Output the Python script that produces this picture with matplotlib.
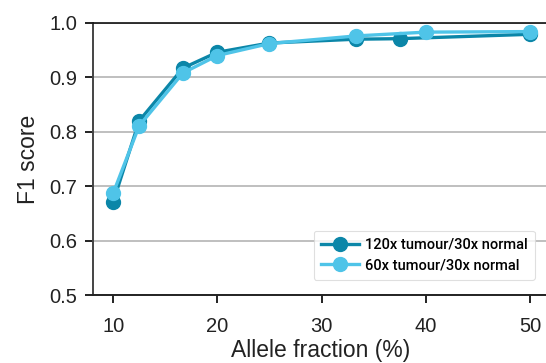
import matplotlib
matplotlib.use("Agg")
import matplotlib.pyplot as plt

# allele fraction (%) and F1 scores
af_120 = [10, 12.5, 16.7, 20, 25, 33.3, 37.5, 50]
f1_120 = [0.671, 0.820, 0.917, 0.946, 0.963, 0.970, 0.971, 0.979]
af_60 = [10, 12.5, 16.7, 20, 25, 33.3, 40, 50]
f1_60 = [0.687, 0.811, 0.908, 0.940, 0.962, 0.976, 0.983, 0.984]

x_ticks = [10, 20, 30, 40, 50]
y_ticks = [0.5, 0.6, 0.7, 0.8, 0.9, 1.0]

dark = "#0b86a8"
light = "#4fc4e8"

plt.rcParams["font.family"] = ["Liberation Sans", "DejaVu Sans"]

fig = plt.figure(figsize=(5.46, 3.63), dpi=100)
ax = fig.add_axes([0.170, 0.187, 0.835, 0.750])

ax.plot(af_120, f1_120, color=dark, lw=2.4, marker="o", ms=10,
        label="120x tumour/30x normal", zorder=3)
ax.plot(af_60, f1_60, color=light, lw=2.4, marker="o", ms=10,
        label="60x tumour/30x normal", zorder=4)

ax.set_xlim(8.05, 51.8)
ax.set_ylim(0.5, 1.0)
ax.set_xticks(x_ticks)
ax.set_yticks(y_ticks)
ax.set_yticklabels([f"{v:.1f}" for v in y_ticks])
ax.yaxis.grid(True, color="#b4b4b4", lw=1.2)
ax.set_axisbelow(True)

ax.spines["right"].set_visible(False)
ax.spines["top"].set_color("#111111")
ax.spines["top"].set_linewidth(1.2)
ax.spines["bottom"].set_color("#222222")
ax.spines["bottom"].set_linewidth(1.4)
ax.spines["left"].set_color("#444444")
ax.spines["left"].set_linewidth(1.4)
ax.tick_params(axis="both", direction="out", length=6, width=1.4,
               color="#222222", labelsize=14.5, labelcolor="#222222")
ax.tick_params(axis="x", pad=10)
ax.tick_params(axis="y", pad=5)

ax.set_xlabel("Allele fraction (%)", fontsize=16.5, color="#222222", labelpad=2)
ax.set_ylabel("F1 score", fontsize=16.5, color="#222222", labelpad=7)

leg = ax.legend(loc="lower right", bbox_to_anchor=(0.985, 0.03),
                prop={"family": "Roboto", "size": 10.5, "weight": "medium"},
                frameon=True, fancybox=True, handlelength=2.6,
                borderpad=0.5, labelspacing=0.45, handletextpad=0.4)
leg.get_frame().set_edgecolor("#d8d8d8")
leg.get_frame().set_linewidth(0.8)

fig.savefig("out.png", dpi=100)
